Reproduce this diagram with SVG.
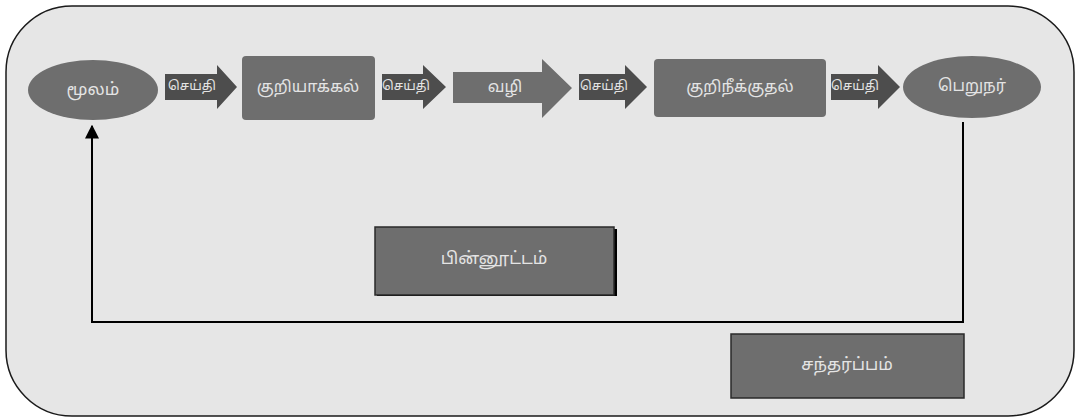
<svg xmlns="http://www.w3.org/2000/svg" width="1082" height="419" viewBox="0 0 1082 419">
<style>
.node{fill:#6e6e6e}
.msg{fill:#4d4d4d}
.t{font-family:"Noto Sans Tamil","Lohit Tamil","Noto Sans","DejaVu Sans",sans-serif;fill:#e4e4e4;text-anchor:middle;dominant-baseline:central}
.line{fill:none;stroke:#000;stroke-width:2}
.box{fill:#6e6e6e;stroke:#2a2a2a;stroke-width:1.5}
</style>
<defs>
<marker id="ah" viewBox="0 0 10 10" refX="9" refY="5" markerWidth="7" markerHeight="7" orient="auto" markerUnits="strokeWidth">
<path d="M0,0 L10,5 L0,10 z" fill="#000"/>
</marker>
</defs>
<rect x="6" y="6" width="1068" height="410" rx="66" ry="66" fill="#e6e6e6" stroke="#1a1a1a" stroke-width="1.5"/>
<g id="connectors">
<polyline class="line" points="963,122 963,322 92,322 92,126" marker-end="url(#ah)"/>
</g>
<g id="source">
<ellipse class="node" cx="93" cy="90" rx="65" ry="30"/>
<text class="t" x="93" y="90" font-size="17">மூலம்</text>
</g>
<g id="msg1">
<polygon class="msg" points="165,74 217,74 217,65 237,87 217,109 217,100 165,100"/>
<text class="t" x="192" y="87" font-size="13">செய்தி</text>
</g>
<g id="encode">
<rect class="node" x="242" y="56" width="133" height="64" rx="4"/>
<text class="t" x="308" y="88" font-size="16">குறியாக்கல்</text>
</g>
<g id="msg2">
<polygon class="msg" points="382,74 423,74 423,65 446,87 423,109 423,100 382,100"/>
<text class="t" x="406" y="87" font-size="13">செய்தி</text>
</g>
<g id="channel">
<polygon class="node" points="453,72 542,72 542,59 572,88 542,118 542,103 453,103"/>
<text class="t" x="505" y="88" font-size="16">வழி</text>
</g>
<g id="msg3">
<polygon class="msg" points="579,74 625,74 625,65 647,87 625,109 625,100 579,100"/>
<text class="t" x="604" y="87" font-size="13">செய்தி</text>
</g>
<g id="decode">
<rect class="node" x="654" y="59" width="172" height="58" rx="4"/>
<text class="t" x="740" y="88" font-size="16">குறிநீக்குதல்</text>
</g>
<g id="msg4">
<polygon class="msg" points="831,74 878,74 878,65 900,87 878,109 878,100 831,100"/>
<text class="t" x="855" y="87" font-size="13">செய்தி</text>
</g>
<g id="receiver">
<ellipse class="node" cx="972" cy="87" rx="69" ry="31"/>
<text class="t" x="972" y="87" font-size="16">பெறுநர்</text>
</g>
<g id="feedback">
<rect x="377" y="229" width="240" height="67" fill="#000"/>
<rect class="box" x="375" y="227" width="239" height="68"/>
<text class="t" x="494" y="259" font-size="17">பின்னூட்டம்</text>
</g>
<g id="context">
<rect class="box" x="731" y="334" width="233" height="64"/>
<text class="t" x="847" y="365" font-size="17">சந்தர்ப்பம்</text>
</g>
</svg>
